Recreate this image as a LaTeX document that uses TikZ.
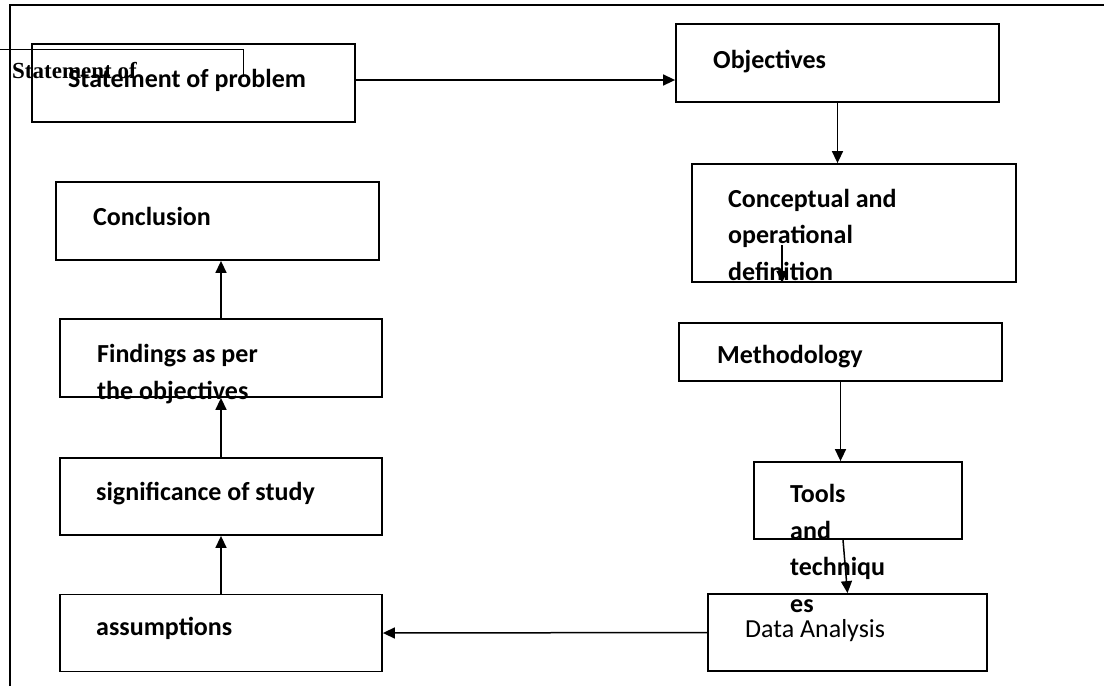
\documentclass[tikz,border=0pt]{standalone}
\usepackage{fontspec}
\setmainfont{Carlito}
\newfontfamily\serifbf{Liberation Serif}
\usetikzlibrary{arrows.meta}

\begin{document}
\begin{tikzpicture}[x=1pt,y=-1pt]
\tikzstyle{box}=[draw,rectangle,line width=1.8pt,inner sep=0pt]
\tikzstyle{lbl}=[anchor=base west,inner sep=0pt,align=left,font=\fontsize{26}{36.5}\selectfont\bfseries]
\tikzstyle{arr}=[line width=1.5pt,-{Triangle[length=12pt,width=11pt]}]
\useasboundingbox (0,0) rectangle (1104,686);
\draw[line width=2pt] (10,686) -- (10,5) -- (1104,5);
% boxes
\node[box,minimum width=323,minimum height=78] (stmt) at (193.5,83) {};
\node[box,minimum width=323,minimum height=78] (obj) at (837.5,63) {};
\node[box,minimum width=324,minimum height=118] (concept) at (854,223) {};
\node[box,minimum width=323,minimum height=58] (method) at (840.5,352) {};
\node[box,minimum width=208,minimum height=77] (tools) at (858,500.5) {};
\node[box,minimum width=279,minimum height=77] (data) at (847.5,632.5) {};
\node[box,minimum width=323,minimum height=78] (concl) at (217.5,221) {};
\node[box,minimum width=322,minimum height=78] (find) at (221,358) {};
\node[box,minimum width=322,minimum height=77] (signif) at (221,496.5) {};
\node[box,minimum width=322,minimum height=77] (assump) at (221,633) {};
% texts (multi-line ones placed by their last baseline)
\draw[line width=1pt] (0,49) -- (243,49) -- (243,77);
\node[anchor=base west,inner sep=0pt,font=\fontsize{23}{23}\serifbf\bfseries] (stmtsmall) at (12,78) {Statement of};
\node[lbl] (stmttxt) at (68,87) {Statement of problem};
\node[lbl] (objtxt) at (713,68) {Objectives};
\node[lbl] (concepttxt) at (728,280) {Conceptual and\\operational\\definition};
\node[lbl] (methodtxt) at (717,363) {Methodology};
\node[lbl] (toolstxt) at (790,612) {Tools\\and\\techniqu\\es};
\node[lbl,font=\fontsize{26}{36.5}\selectfont] (datatxt) at (745,637) {Data Analysis};
\node[lbl] (concltxt) at (93,225) {Conclusion};
\node[lbl] (findtxt) at (97,399) {Findings as per\\the objectives};
\node[lbl] (signiftxt) at (96,500) {significance of study};
\node[lbl] (assumptxt) at (96,635) {assumptions};
% arrows
\coordinate (c1) at (782,245);
\draw[arr] ([yshift=3]stmt.east) -- ([yshift=3]stmt.east -| obj.west);
\draw[arr] (obj.south) -- (obj.south |- concept.north);
\draw[arr] (c1) -- (c1 |- concept.south);
\draw[arr] (method.south) -- (method.south |- tools.north);
\draw[arr] ([xshift=-15]tools.south) -- (data.north);
\draw[arr] (data.west) -- (assump.east);
\draw[arr] (assump.north) -- (signif.south);
\draw[arr] (signif.north) -- (find.south);
\draw[arr] (find.north) -- (find.north |- concl.south);
\end{tikzpicture}
\end{document}
